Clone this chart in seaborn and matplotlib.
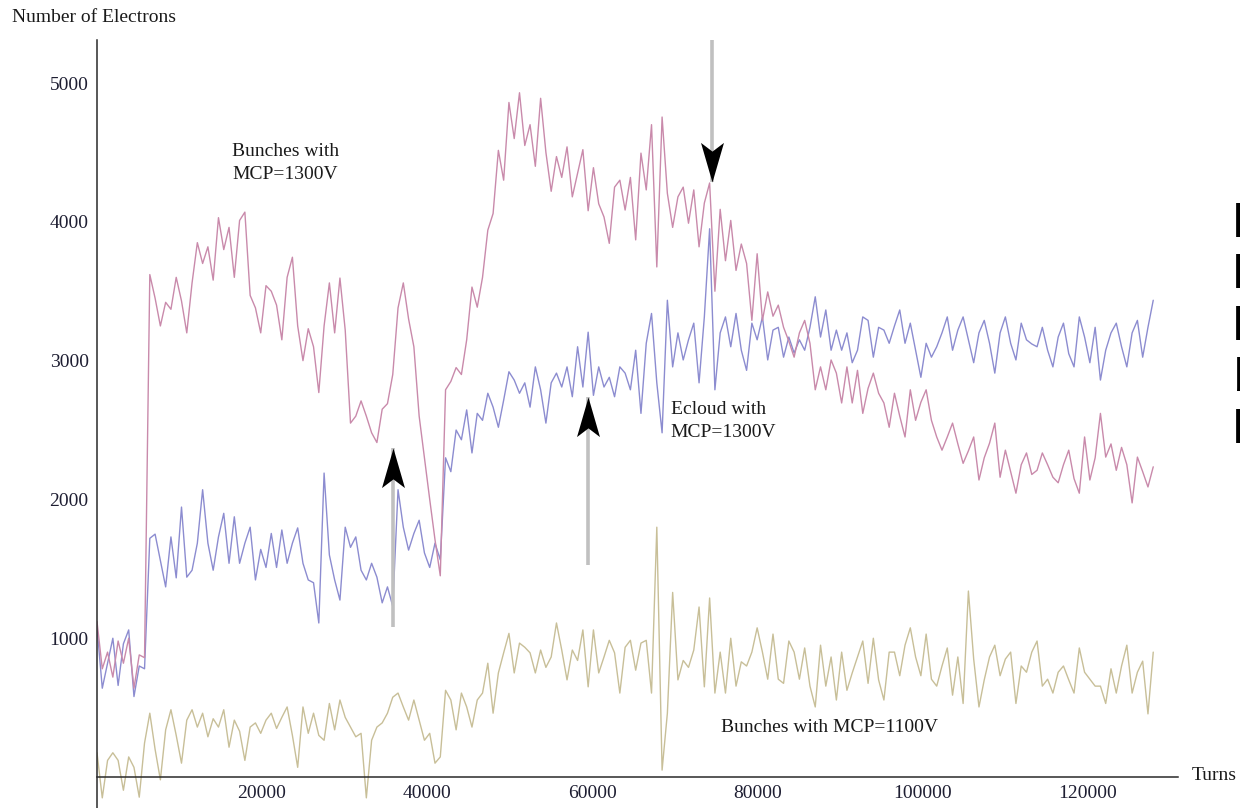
import numpy as np
import pandas as pd
import seaborn as sns
import matplotlib.pyplot as plt
from matplotlib.path import Path
from matplotlib.ticker import MultipleLocator

# one sample every 640 turns
step = 640

bunches_1300 = [1120, 780, 900, 720, 980, 820, 1000, 640, 880, 860,
                3620, 3450, 3250, 3420, 3370, 3600, 3430, 3200, 3560, 3850,
                3700, 3820, 3580, 4030, 3800, 3960, 3600, 4010, 4070, 3470,
                3380, 3200, 3540, 3500, 3400, 3150, 3600, 3745, 3250, 3000,
                3230, 3100, 2770, 3250, 3560, 3200, 3595, 3220, 2550, 2600,
                2710, 2600, 2480, 2410, 2650, 2690, 2900, 3380, 3560, 3300,
                3100, 2600, 2300, 2000, 1710, 1450, 2790, 2850, 2950, 2900,
                3150, 3530, 3385, 3600, 3940, 4060, 4515, 4300, 4860, 4600,
                4930, 4550, 4700, 4400, 4890, 4500, 4220, 4470, 4320, 4540,
                4180, 4350, 4520, 4080, 4390, 4130, 4035, 3845, 4250, 4300,
                4085, 4320, 3870, 4495, 4230, 4700, 3675, 4755, 4205, 3960,
                4180, 4250, 3990, 4230, 3820, 4135, 4280, 3500, 4090, 3720,
                4010, 3650, 3840, 3700, 3290, 3770, 3290, 3495, 3320, 3400,
                3240, 3140, 3025, 3200, 3290, 3125, 2790, 2955, 2790, 3005,
                2910, 2695, 2955, 2695, 2930, 2620, 2800, 2910, 2765, 2695,
                2520, 2765, 2600, 2450, 2790, 2570, 2700, 2790, 2570, 2450,
                2355, 2450, 2550, 2400, 2260, 2350, 2450, 2140, 2300, 2405,
                2550, 2160, 2355, 2200, 2045, 2250, 2335, 2180, 2210, 2335,
                2250, 2160, 2120, 2250, 2355, 2150, 2045, 2450, 2140, 2300,
                2620, 2305, 2400, 2210, 2375, 2250, 1975, 2305, 2200, 2090, 2235]

ecloud_1300 = [1080, 640, 820, 1000, 660, 960, 1060, 580, 800, 780,
               1720, 1750, 1560, 1370, 1730, 1435, 1945, 1440, 1490, 1685,
               2070, 1685, 1490, 1730, 1900, 1540, 1875, 1540, 1685, 1800,
               1420, 1640, 1510, 1755, 1510, 1780, 1540, 1685, 1795, 1540,
               1420, 1400, 1110, 2190, 1600, 1420, 1275, 1800, 1655, 1730,
               1490, 1420, 1540, 1440, 1255, 1370, 1230, 2070, 1800, 1635,
               1755, 1850, 1615, 1510, 1685, 1565, 2300, 2200, 2500, 2430,
               2645, 2335, 2620, 2570, 2765, 2665, 2520, 2715, 2920, 2860,
               2765, 2840, 2665, 2955, 2790, 2550, 2840, 2910, 2810, 2955,
               2740, 3100, 2810, 3205, 2750, 2955, 2810, 2880, 2740, 2955,
               2910, 2790, 3075, 2620, 3125, 3340, 2840, 2480, 3435, 2955,
               3200, 3005, 3150, 3270, 2840, 3315, 3950, 2790, 3200, 3315,
               3100, 3340, 3075, 2930, 3270, 3150, 3315, 3005, 3220, 3240,
               3025, 3170, 3055, 3150, 3075, 3240, 3460, 3170, 3365, 3075,
               3220, 3075, 3200, 2985, 3075, 3315, 3290, 3025, 3240, 3220,
               3125, 3250, 3365, 3125, 3270, 3075, 2880, 3125, 3025, 3100,
               3200, 3315, 3075, 3220, 3315, 3150, 2985, 3200, 3290, 3125,
               2910, 3200, 3315, 3125, 3005, 3270, 3150, 3120, 3100, 3240,
               3075, 2955, 3170, 3270, 3050, 2955, 3315, 3170, 2985, 3240,
               2860, 3075, 3200, 3270, 3100, 2955, 3200, 3290, 3025, 3240, 3435]

bunches_1100 = [175, -150, 120, 175, 120, -95, 145, 70, -145, 245,
                460, 200, -20, 340, 485, 300, 100, 410, 485, 360,
                460, 290, 420, 360, 485, 215, 410, 330, 120, 360,
                390, 315, 410, 460, 350, 430, 505, 300, 70, 505,
                315, 460, 300, 265, 530, 340, 555, 430, 360, 290,
                315, -150, 265, 360, 390, 460, 575, 605, 505, 410,
                555, 410, 265, 315, 100, 145, 625, 555, 340, 605,
                505, 360, 555, 605, 820, 460, 750, 895, 1035, 750,
                965, 935, 895, 750, 915, 790, 865, 1110, 915, 700,
                915, 840, 1060, 650, 1060, 750, 865, 985, 895, 605,
                935, 985, 770, 965, 985, 605, 1800, 50, 460, 1330,
                700, 840, 790, 915, 1225, 650, 1290, 605, 900, 605,
                1000, 655, 830, 800, 900, 1075, 900, 705, 1030, 705,
                675, 980, 900, 705, 930, 655, 505, 950, 655, 865,
                555, 900, 625, 750, 865, 980, 675, 1000, 700, 555,
                900, 900, 730, 950, 1075, 865, 730, 1030, 705, 655,
                800, 930, 590, 865, 530, 1340, 850, 505, 700, 865,
                950, 730, 850, 900, 530, 800, 755, 900, 980, 655,
                705, 605, 755, 800, 700, 605, 930, 755, 705, 655,
                655, 530, 780, 605, 800, 950, 605, 755, 835, 455, 900]

series_names = ["Ecloud with MCP=1300V", "Bunches with MCP=1300V", "Bunches with MCP=1100V"]
series_colors = ["#8c8cd0", "#c98aab", "#c8bf98"]

xtick_vals = [20000, 40000, 60000, 80000, 100000, 120000]
ytick_vals = [1000, 2000, 3000, 4000, 5000]

# arrows: turn position, tail and tip in electrons
arrow_turns = [35900, 59500, 74500]
arrow_tail = [1080, 1530, 5310]
arrow_tip = [2370, 2740, 4290]

frames = []
for name, vals in zip(series_names, [ecloud_1300, bunches_1300, bunches_1100]):
    frames.append(pd.DataFrame({"Turns": np.arange(len(vals)) * step,
                                "Electrons": vals, "series": name}))
df = pd.concat(frames, ignore_index=True)

sns.set_style("white")
plt.rcParams["font.family"] = ["Liberation Serif", "DejaVu Serif"]

fig = plt.figure(figsize=(12.4, 8.08), dpi=100)
ax = fig.add_axes([97 / 1240, 0.0, (1178 - 97) / 1240, (808 - 40) / 808])

sns.lineplot(data=df, x="Turns", y="Electrons", hue="series", hue_order=series_names,
             palette=series_colors, lw=1.0, estimator=None, sort=False,
             legend=False, ax=ax)

ax.set_xlim(0, 131000)
ax.set_ylim(-223, 5310)

# mathematica-like axes crossing at the origin
ax.spines["top"].set_visible(False)
ax.spines["right"].set_visible(False)
ax.spines["bottom"].set_position(("data", 0))
for s in ["left", "bottom"]:
    ax.spines[s].set_color("#2a2a2a")
    ax.spines[s].set_linewidth(1.1)

ax.set_xticks(xtick_vals, labels=[str(v) for v in xtick_vals])
ax.set_yticks(ytick_vals, labels=[str(v) for v in ytick_vals])
ax.xaxis.set_minor_locator(MultipleLocator(5000))
ax.yaxis.set_minor_locator(MultipleLocator(200))
ax.tick_params(which="major", direction="in", length=6, width=1.0, color="#2a2a2a",
               labelsize=14, labelcolor="#1e1e32", pad=6)
ax.tick_params(which="minor", direction="in", length=3.5, width=0.9, color="#2a2a2a")
ax.set_xlabel("")
ax.set_ylabel("")

# arrows: gray shaft, black notched head
up_head = Path([(0, 0), (-0.29, -1), (0, -0.78), (0.29, -1), (0, 0)],
               [Path.MOVETO, Path.LINETO, Path.LINETO, Path.LINETO, Path.CLOSEPOLY])
down_head = Path([(0, 0), (-0.29, 1), (0, 0.78), (0.29, 1), (0, 0)],
                 [Path.MOVETO, Path.LINETO, Path.LINETO, Path.LINETO, Path.CLOSEPOLY])
for xt, a, b in zip(arrow_turns, arrow_tail, arrow_tip):
    ax.plot([xt, xt], [a, b], color="#c0c0c0", lw=2.6, solid_capstyle="butt",
            zorder=4, clip_on=False)
    ax.plot([xt], [b], marker=up_head if b > a else down_head, ms=57,
            color="black", mew=0, ls="none", zorder=5, clip_on=False)

# labels
ax.text(16400, 4570, "Bunches with\nMCP=1300V", fontsize=14, va="top", ha="left",
        linespacing=1.45, color="#1a1a1a")
ax.text(69500, 2710, "Ecloud with\nMCP=1300V", fontsize=14, va="top", ha="left",
        linespacing=1.45, color="#1a1a1a")
ax.text(75600, 360, "Bunches with MCP=1100V", fontsize=14, va="center", ha="left",
        color="#1a1a1a")

fig.text(12 / 1240, 1 - 18 / 808, "Number of Electrons", fontsize=14,
         va="center", ha="left", color="#1a1a1a")
fig.text(1192 / 1240, 1 - 776 / 808, "Turns", fontsize=14, va="center", ha="left",
         color="#1a1a1a")

# clipped slide text at the right edge
fig.text(1233 / 1240, 1 - 203 / 808, "l\nl\nl\nb\nl", family="Liberation Sans",
         fontsize=34, va="top", ha="left", linespacing=1.22, color="black")

fig.savefig("out.png", dpi=100)
